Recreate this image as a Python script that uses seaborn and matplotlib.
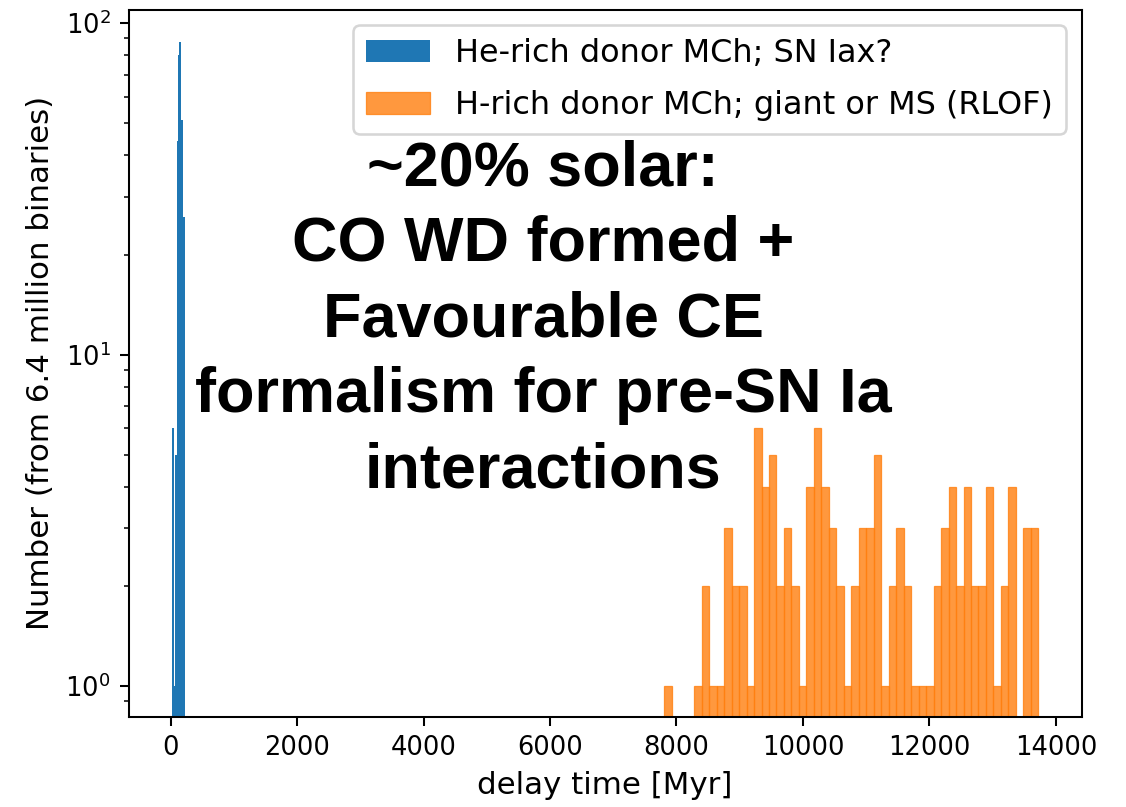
import numpy as np
import pandas as pd
import matplotlib
matplotlib.use("Agg")
import matplotlib.pyplot as plt
import seaborn as sns

# ---- data ----
blue_start = 21.0          # Myr, left edge of first He-rich bin
blue_width = 16.0          # Myr per bin
blue_counts = [6, 6, 1, 5, 5, 44, 80, 88, 88, 51, 51, 26, 26]

orange_start = 7807.0      # Myr
orange_end = 13722.0       # Myr
orange_counts = [1, 0, 0, 0, 1, 2, 1, 1, 3, 2,
                 2, 1, 6, 4, 5, 2, 3, 2, 1, 4,
                 6, 4, 3, 2, 1, 2, 3, 3, 5, 1,
                 2, 3, 2, 1, 1, 1, 2, 3, 4, 2,
                 4, 2, 2, 4, 1, 2, 4, 0, 3, 3]

blue_label = "He-rich donor MCh; SN Iax?"
orange_label = "H-rich donor MCh; giant or MS (RLOF)"
annotation = "~20% solar:\nCO WD formed +\nFavourable CE\nformalism for pre-SN Ia\ninteractions"
xlabel = "delay time [Myr]"
ylabel = "Number (from 6.4 million binaries)"
xticks = [0, 2000, 4000, 6000, 8000, 10000, 12000, 14000]
ylim = (0.81, 110)

# ---- build histogram inputs ----
blue_edges = (blue_start + blue_width * np.arange(len(blue_counts) + 1)).tolist()
blue_df = pd.DataFrame({"t": [0.5 * (a + b) for a, b in zip(blue_edges[:-1], blue_edges[1:])],
                        "n": blue_counts})
orange_edges = np.linspace(orange_start, orange_end, len(orange_counts) + 1).tolist()
orange_df = pd.DataFrame({"t": [0.5 * (a + b) for a, b in zip(orange_edges[:-1], orange_edges[1:])],
                          "n": orange_counts})

DPI = 185
fig = plt.figure(figsize=(1126 / DPI, 807 / DPI), dpi=DPI)
ax = fig.add_axes([0.1142, 0.1121, 0.8464, 0.8761])
ax.set_yscale("log")

blue = "#1f77b4"
orange = "#ff7f0e"
sns.histplot(data=blue_df, x="t", weights="n", bins=blue_edges, ax=ax,
             color=blue, alpha=1.0, linewidth=0, edgecolor="none",
             label=blue_label)
sns.histplot(data=orange_df, x="t", weights="n", bins=orange_edges, ax=ax,
             color=orange, alpha=0.8, linewidth=0.5,
             edgecolor=(1.0, 0.498, 0.055, 0.8), label=orange_label)

ax.set_ylim(*ylim)
ax.set_xticks(xticks)
ax.tick_params(labelsize=10)
ax.set_xlabel(xlabel, fontsize=12)
ax.set_ylabel(ylabel, fontsize=12)
ax.legend(loc="upper right", fontsize=12.4, labelspacing=0.65)

ax.text(0.435, 0.561, annotation, transform=ax.transAxes, ha="center",
        va="center", fontsize=24.5, fontweight="bold",
        family="Liberation Sans", linespacing=1.36)

fig.savefig("out.png", dpi=DPI)
